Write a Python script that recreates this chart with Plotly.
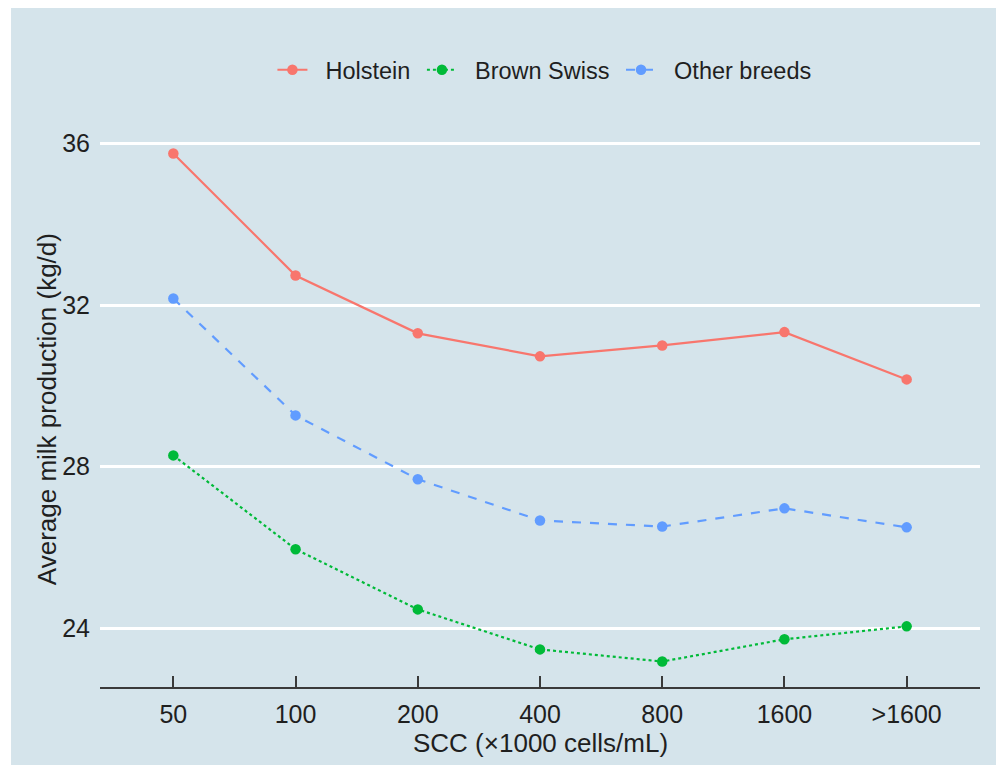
import plotly.graph_objects as go

categories = ["50", "100", "200", "400", "800", "1600", ">1600"]
holstein = [35.75, 32.73, 31.30, 30.73, 31.00, 31.33, 30.16]
brown_swiss = [28.28, 25.96, 24.47, 23.48, 23.18, 23.73, 24.05]
other_breeds = [32.16, 29.27, 27.69, 26.67, 26.52, 26.97, 26.50]
y_ticks = [24, 28, 32, 36]

series = [
    ("Holstein", holstein, "#F8766D", "solid"),
    ("Brown Swiss", brown_swiss, "#00BA38", "dot"),
    ("Other breeds", other_breeds, "#619CFF", "dash"),
]

BG = "#d5e4eb"
FONT = "Liberation Sans, Arial, Helvetica, sans-serif"
LEAD = "\u00a0\u00a0"
TRAIL = "\u00a0"

fig = go.Figure()
for name, vals, color, dash in series:
    fig.add_trace(go.Scatter(
        x=categories, y=vals, name=LEAD + name + TRAIL, mode="lines+markers",
        line=dict(color=color, width=2.2, dash=dash),
        marker=dict(color=color, size=10.5),
    ))

fig.add_shape(type="rect", xref="paper", yref="paper",
              x0=-0.1011, x1=1.1, y0=-0.1395, y1=1.25,
              fillcolor=BG, line=dict(width=0), layer="below")

fig.add_annotation(text="SCC (×1000 cells/mL)", xref="paper", yref="paper",
                   x=0.5, y=-0.0995, xanchor="center", yanchor="middle",
                   showarrow=False, font=dict(size=26))
fig.add_annotation(text="Average milk production (kg/d)", xref="paper", yref="paper",
                   x=-0.0602, y=0.497, xanchor="center", yanchor="middle",
                   textangle=-90, showarrow=False, font=dict(size=26))

fig.update_layout(
    width=1004, height=771,
    margin=dict(l=92, r=32, t=120, b=92),
    paper_bgcolor="white", plot_bgcolor=BG,
    font=dict(family=FONT, size=25, color="#1f1f1f"),
    showlegend=True,
    legend=dict(orientation="h", x=0.509, xanchor="center", y=1.1038, yanchor="middle",
                bgcolor="rgba(0,0,0,0)", font=dict(size=23.5), itemwidth=30,
                traceorder="normal"),
    xaxis=dict(
        type="category", range=[-0.6, 6.6],
        showgrid=False, zeroline=False,
        showline=True, linecolor="#3a3a3a", linewidth=2,
        ticks="inside", ticklen=11, tickwidth=1.6, tickcolor="#3a3a3a",
        ticklabelstandoff=4,
        tickfont=dict(size=25),
        automargin=False,
    ),
    yaxis=dict(
        range=[22.55, 36.38], tickvals=y_ticks,
        showgrid=True, gridcolor="white", gridwidth=3,
        zeroline=False, showline=False, ticks="",
        ticklabelstandoff=9,
        tickfont=dict(size=25),
        automargin=False,
    ),
)

fig.write_html("out.html")
